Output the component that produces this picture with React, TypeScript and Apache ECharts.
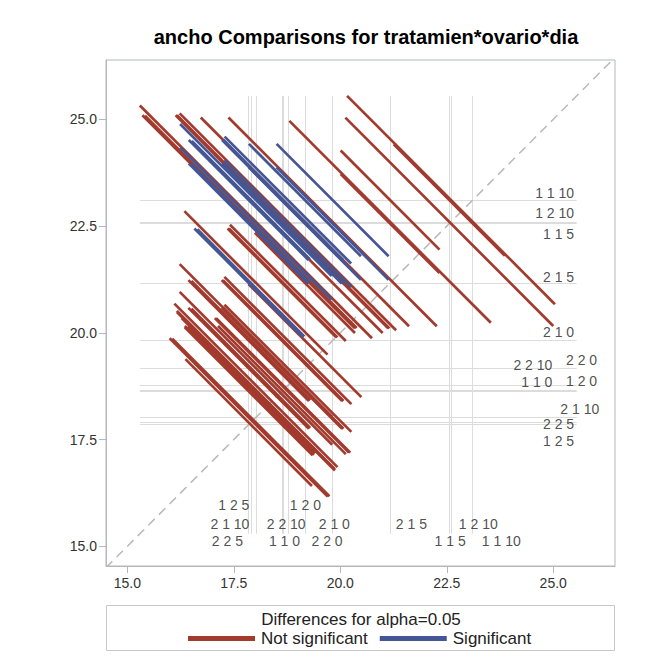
import { useEffect, useRef } from "react";
import * as echarts from "echarts";

// Levels of tratamien*ovario*dia and their LS-means for ancho
const levelLabels = [
  "1 1 0", "1 1 5", "1 1 10", "1 2 0", "1 2 5", "1 2 10",
  "2 1 0", "2 1 5", "2 1 10", "2 2 0", "2 2 5", "2 2 10",
];
const lsMeans = [18.77, 22.56, 23.11, 18.66, 17.85, 22.6, 19.82, 21.17, 18.02, 18.63, 17.9, 19.17];

// Width of the confidence interval for each difference; row i holds pairs (i, j) for j > i
const diffWidths = [
  [2.97, 2.97, 3.15, 3.15, 5.08, 2.98, 2.72, 3.83, 3.15, 3.11, 2.98],
  [2.61, 2.81, 2.81, 4.88, 2.63, 2.32, 3.56, 2.81, 2.77, 2.63],
  [2.81, 2.81, 4.88, 2.63, 2.32, 3.56, 2.81, 2.77, 2.63],
  [3.0, 4.99, 2.83, 2.55, 3.71, 3.0, 2.97, 2.83],
  [4.99, 2.83, 2.55, 3.71, 3.0, 2.97, 2.83],
  [4.89, 4.73, 5.45, 4.99, 4.97, 4.89],
  [2.35, 3.58, 2.83, 2.79, 2.65],
  [3.36, 2.55, 2.51, 2.35],
  [3.71, 3.69, 3.58],
  [2.97, 2.83],
  [2.79],
];

const axisTicks = [15, 17.5, 20, 22.5, 25];
const legendNames = ["Not significant", "Significant"];

// Placement of the reference-line labels (right edge of the horizontal-line labels)
const rightLabelSpots: [number, number][] = [
  [24.98, 18.86], [25.49, 22.32], [25.49, 23.28], [26.03, 18.88], [25.49, 17.47], [25.49, 22.81],
  [25.49, 20.03], [25.49, 21.3], [26.08, 18.22], [26.03, 19.37], [25.49, 17.86], [24.98, 19.24],
];
// Centres of the vertical-line labels along the bottom
const bottomLabelSpots: [number, number][] = [
  [18.69, 15.13], [22.58, 15.13], [23.78, 15.13], [19.18, 15.98], [17.5, 15.98], [23.24, 15.53],
  [19.86, 15.53], [21.67, 15.53], [17.41, 15.53], [19.69, 15.13], [17.35, 15.13], [18.73, 15.53],
];

const FONT = '"Liberation Sans", Arial, Helvetica, sans-serif';
const RED = "#A23A2E";
const BLUE = "#445694";
const FRAME = "#b2b8bc";
const REF = "#dcdcdc";

export default function App() {
  const ref = useRef<HTMLDivElement>(null);

  useEffect(() => {
    document.body.style.margin = "0";
    const chart = echarts.init(ref.current!, null, { renderer: "svg" });

    // One segment per pair, centred at (lower mean, higher mean) and running at slope -1
    const notSig: any[] = [];
    const sig: any[] = [];
    let lo = Infinity;
    let hi = -Infinity;
    diffWidths.forEach((row, i) => {
      row.forEach((w, k) => {
        const j = i + 1 + k;
        const a = Math.min(lsMeans[i], lsMeans[j]);
        const b = Math.max(lsMeans[i], lsMeans[j]);
        const h = w / 2;
        const p1 = [a - h, b + h];
        const p2 = [a + h, b - h];
        lo = Math.min(lo, p1[0], p2[1]);
        hi = Math.max(hi, p1[1], p2[0]);
        (b - a > w ? sig : notSig).push({ coords: [p1, p2] });
      });
    });

    const refLines: any[] = [];
    lsMeans.forEach((m) => {
      refLines.push({ coords: [[m, lo], [m, hi]] });
      refLines.push({ coords: [[lo, m], [hi, m]] });
    });

    const labelStyle = { fontSize: 14, color: "#222", fontFamily: FONT };
    const refLabels: any[] = [];
    levelLabels.forEach((t, i) => {
      refLabels.push({
        value: rightLabelSpots[i],
        label: { show: true, formatter: t, position: "inside", align: "right", verticalAlign: "middle", ...labelStyle },
      });
      refLabels.push({
        value: bottomLabelSpots[i],
        label: { show: true, formatter: t, position: "inside", align: "center", verticalAlign: "middle", ...labelStyle },
      });
    });

    const axisCommon = {
      type: "value" as const,
      splitLine: { show: false },
      axisLine: { show: true, lineStyle: { color: FRAME } },
      axisTick: { show: true, customValues: axisTicks, length: 7, lineStyle: { color: FRAME } },
    };

    chart.setOption({
      animation: false,
      title: {
        text: "ancho Comparisons for tratamien*ovario*dia",
        left: 366,
        top: 27,
        textAlign: "center",
        padding: 0,
        textStyle: { fontSize: 20, fontWeight: "bold", color: "#000", fontFamily: FONT },
      },
      grid: {
        left: 106,
        top: 60,
        width: 509,
        height: 506,
        show: true,
        borderColor: FRAME,
        borderWidth: 1,
        backgroundColor: "#fff",
      },
      xAxis: {
        ...axisCommon,
        min: 14.5,
        max: 26.45,
        axisLabel: {
          customValues: axisTicks,
          formatter: (v: number) => v.toFixed(1),
          fontSize: 14,
          color: "#333",
          fontFamily: FONT,
          margin: 10,
        },
      },
      yAxis: {
        ...axisCommon,
        min: 14.54,
        max: 26.39,
        axisLabel: {
          customValues: axisTicks,
          formatter: (v: number) => v.toFixed(1),
          fontSize: 14,
          color: "#333",
          fontFamily: FONT,
          margin: 9,
        },
      },
      legend: {
        data: legendNames,
        left: 188,
        top: 630,
        icon: "rect",
        itemWidth: 65,
        itemHeight: 3,
        itemGap: 12,
        padding: 0,
        selectedMode: false,
        textStyle: { fontSize: 17, color: "#222", fontFamily: FONT, padding: [0, 0, 0, 2] },
      },
      graphic: [
        {
          type: "rect",
          shape: { x: 106.5, y: 605.5, width: 508, height: 45 },
          style: { fill: "none", stroke: "#c8c8c8", lineWidth: 1 },
        },
        {
          type: "text",
          x: 361,
          y: 619,
          style: {
            text: "Differences for alpha=0.05",
            fontSize: 17,
            fontFamily: FONT,
            fill: "#222",
            align: "center",
            verticalAlign: "middle",
          },
        },
      ],
      series: [
        {
          type: "lines",
          name: "reference",
          coordinateSystem: "cartesian2d",
          silent: true,
          z: 1,
          lineStyle: { color: REF, width: 1, opacity: 1 },
          data: refLines,
        },
        {
          type: "line",
          name: "diagonal",
          silent: true,
          z: 2,
          showSymbol: false,
          lineStyle: { color: "#b9b9b9", width: 1.5, type: [9, 6] },
          data: [[14.5, 14.5], [26.45, 26.45]],
        },
        {
          type: "lines",
          name: legendNames[0],
          coordinateSystem: "cartesian2d",
          silent: true,
          z: 3,
          itemStyle: { color: RED },
          lineStyle: { color: RED, width: 2.7, opacity: 1 },
          data: notSig,
        },
        {
          type: "lines",
          name: legendNames[1],
          coordinateSystem: "cartesian2d",
          silent: true,
          z: 4,
          itemStyle: { color: BLUE },
          lineStyle: { color: BLUE, width: 2.7, opacity: 1 },
          data: sig,
        },
        {
          type: "scatter",
          name: "labels",
          silent: true,
          z: 5,
          symbolSize: 0,
          data: refLabels,
        },
      ],
    });

    return () => chart.dispose();
  }, []);

  return <div ref={ref} style={{ width: 649, height: 658 }} />;
}
